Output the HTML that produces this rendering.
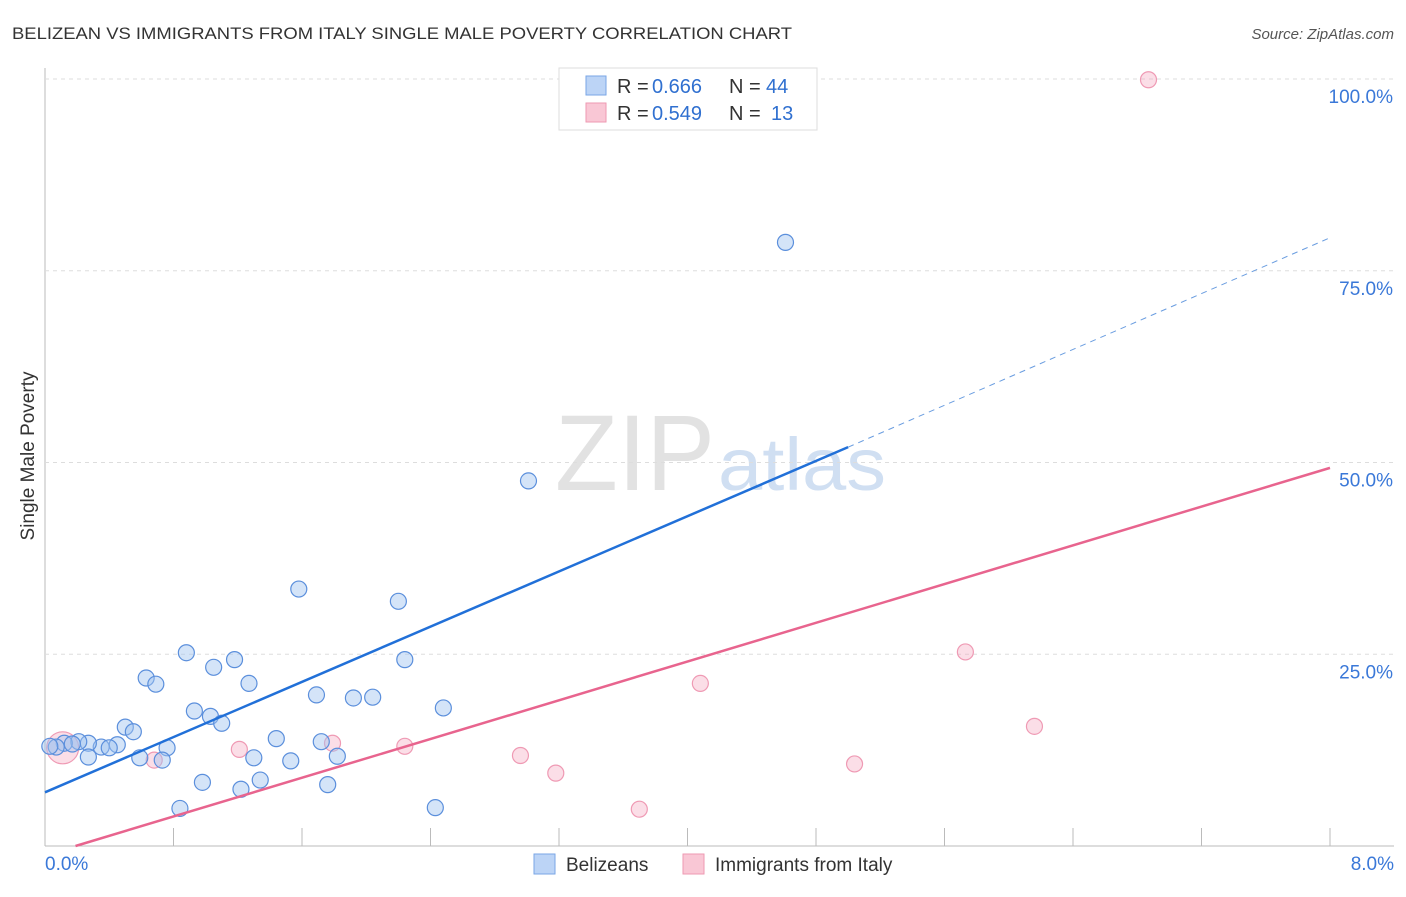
<!DOCTYPE html>
<html><head><meta charset="utf-8"><style>
body{margin:0;background:#fff;font-family:"Liberation Sans",sans-serif;}
svg text{font-family:"Liberation Sans",sans-serif;}
</style></head><body>
<svg id="c" width="1406" height="892" xmlns="http://www.w3.org/2000/svg">
<text x="12" y="39" font-size="17" fill="#333" textLength="780" lengthAdjust="spacingAndGlyphs">BELIZEAN VS IMMIGRANTS FROM ITALY SINGLE MALE POVERTY CORRELATION CHART</text>
<text x="1394" y="39" font-size="15" fill="#555" font-style="italic" text-anchor="end">Source: ZipAtlas.com</text>
<text transform="translate(34,456) rotate(-90)" font-size="19" fill="#333" text-anchor="middle">Single Male Poverty</text>
<text x="555" y="490" font-size="108" fill="#e2e2e2" font-family="Liberation Serif" textLength="160" lengthAdjust="spacingAndGlyphs">ZIP</text>
<text x="718" y="490" font-size="74" fill="#d0dff2" textLength="168" lengthAdjust="spacingAndGlyphs">atlas</text>
<g id="grid"></g><g id="marks"></g><g id="lines"></g>
<g>
<rect x="559" y="68" width="258" height="62" fill="#fff" stroke="#ddd"/>
<rect x="586" y="76" width="20" height="19" fill="#bcd4f6" stroke="#7aa6e6"/>
<rect x="586" y="103" width="20" height="19" fill="#f9c7d5" stroke="#ee9ab2"/>
<text x="617" y="93" font-size="20" fill="#333">R =</text>
<text x="652" y="93" font-size="20" fill="#3070d0">0.666</text>
<text x="729" y="93" font-size="20" fill="#333">N =</text>
<text x="766" y="93" font-size="20" fill="#3070d0">44</text>
<text x="617" y="120" font-size="20" fill="#333">R =</text>
<text x="652" y="120" font-size="20" fill="#3070d0">0.549</text>
<text x="729" y="120" font-size="20" fill="#333">N =</text>
<text x="771" y="120" font-size="20" fill="#3070d0">13</text>
</g>
<g>
<rect x="534" y="854" width="21" height="20" fill="#bcd4f6" stroke="#7aa6e6"/>
<text x="566" y="871" font-size="19" fill="#333">Belizeans</text>
<rect x="683" y="854" width="21" height="20" fill="#f9c7d5" stroke="#ee9ab2"/>
<text x="715" y="871" font-size="19" fill="#333">Immigrants from Italy</text>
</g>
</svg>
<script>
const xTicks=[0.8,1.6,2.4,3.2,4.0,4.8,5.6,6.4,7.2,8.0];
const yTicks=[25,50,75,100];
const blueX=[4.61,3.01,1.58,2.20,0.88,1.18,2.24,1.05,0.63,0.69,1.27,1.69,1.92,2.04,2.48,0.93,1.03,1.10,0.50,0.55,1.44,1.72,0.76,0.35,0.45,0.40,0.27,0.21,0.12,0.07,0.03,0.59,0.73,0.27,1.30,1.53,1.82,1.34,0.98,1.22,1.76,0.84,2.43,0.17];
const blueY=[78.7,47.6,33.5,31.9,25.2,24.3,24.3,23.3,21.9,21.1,21.2,19.7,19.3,19.4,18.0,17.6,16.9,16.0,15.5,14.9,14.0,13.6,12.8,12.9,13.2,12.8,13.4,13.6,13.4,12.9,13.0,11.5,11.2,11.6,11.5,11.1,11.7,8.6,8.3,7.4,8.0,4.9,5.0,13.3];
const pinkX=[6.87,5.73,4.08,6.16,1.21,1.79,2.24,2.96,3.18,5.04,3.70,0.68,0.11];
const pinkY=[99.9,25.3,21.2,15.6,12.6,13.4,13.0,11.8,9.5,10.7,4.8,11.2,12.8];
const pinkR=[8,8,8,8,8,8,8,8,8,8,8,8,16];
const blueFit=[[0,7.0],[5.0,52.0],[8.0,79.3]];
const pinkFit=[[0.19,0],[8.0,49.3]];
const X=v=>45+v/8*1285, Y=v=>846-v/100*767;
const NS="http://www.w3.org/2000/svg";
function mk(t,a,p){const e=document.createElementNS(NS,t);for(const k in a)e.setAttribute(k,a[k]);p.appendChild(e);return e;}
const g=document.getElementById('grid'),m=document.getElementById('marks'),l=document.getElementById('lines');
let ax=mk('line',{x1:45,y1:68,x2:45,y2:846,stroke:'#bbb'},g);


let bx=mk('line',{x1:45,y1:846,x2:1394,y2:846,stroke:'#bbb'},g);


yTicks.forEach(v=>{
 const gl=mk('line',{x1:45,y1:Y(v),x2:1394,y2:Y(v),stroke:'#ddd','stroke-dasharray':'4,4'},g);
 
 
 const t=mk('text',{x:1393,y:Y(v)+24,'font-size':19,fill:'#3a78d8','text-anchor':'end'},g);t.textContent=v.toFixed(1)+'%';
 
 
});
xTicks.forEach(v=>{
 const tk=mk('line',{x1:X(v),y1:828,x2:X(v),y2:846,stroke:'#bbb'},g);
 
 
});
[[0,'0.0%','start',45],[8,'8.0%','end',1394]].forEach(a=>{
 const t=mk('text',{x:a[3],y:870,'font-size':19,fill:'#3a78d8','text-anchor':a[2]},g);t.textContent=a[1];
 
 
});
pinkX.forEach((v,i)=>{
 const c=mk('circle',{cx:X(v),cy:Y(pinkY[i]),r:pinkR[i],fill:'rgba(244,160,185,0.35)',stroke:'#ef9ab4','stroke-width':1.2},m);
 
 
});
blueX.forEach((v,i)=>{
 const c=mk('circle',{cx:X(v),cy:Y(blueY[i]),r:8,fill:'rgba(160,195,240,0.45)',stroke:'#5b8fdc','stroke-width':1.2},m);
 
 
});
let b1=mk('line',{x1:X(blueFit[0][0]),y1:Y(blueFit[0][1]),x2:X(blueFit[1][0]),y2:Y(blueFit[1][1]),stroke:'#2170d8','stroke-width':2.5},l);


let b2=mk('line',{x1:X(blueFit[1][0]),y1:Y(blueFit[1][1]),x2:X(blueFit[2][0]),y2:Y(blueFit[2][1]),stroke:'#6a9de0','stroke-width':1,'stroke-dasharray':'6,5'},l);


let p1=mk('line',{x1:X(pinkFit[0][0]),y1:Y(pinkFit[0][1]),x2:X(pinkFit[1][0]),y2:Y(pinkFit[1][1]),stroke:'#e8648e','stroke-width':2.5},l);


</script>
</body></html>
